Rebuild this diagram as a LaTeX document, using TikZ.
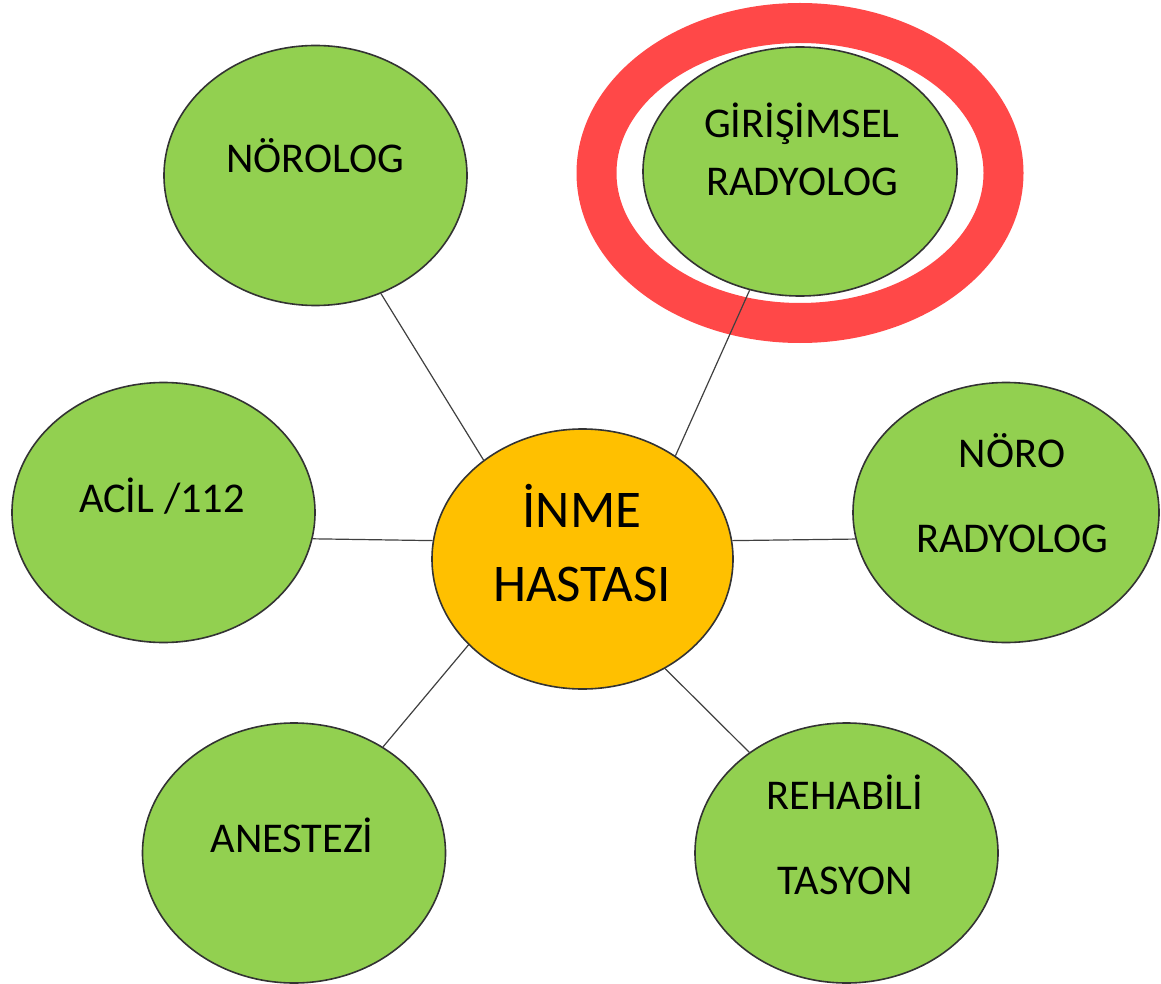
\documentclass[tikz,border=0pt]{standalone}
\usepackage{fontspec}
\setmainfont{Carlito}
\usetikzlibrary{shapes.geometric}
\definecolor{leaf}{HTML}{92D050}
\definecolor{amber}{HTML}{FFC000}
\definecolor{ringred}{HTML}{FF4848}

\begin{document}
\begin{tikzpicture}[x=0.5pt, y=-0.5pt,
            bubble/.style={ellipse, draw=black!80, line width=0.8pt, fill=leaf, inner sep=0pt, minimum width=151.5pt, minimum height=130pt},
            txt/.style={inner sep=0pt, text depth=0pt, anchor=south, align=center, font=\fontsize{21.2}{42.5}\selectfont},
            link/.style={draw=black!75, line width=0.6pt}]
            \useasboundingbox (0,0) rectangle (1161,984);

            \node(ring) [ellipse, draw=ringred, line width=20pt, minimum width=203.5pt, minimum height=150pt] at (800,173) {};

            \node(inme) [bubble, fill=amber, minimum width=150.5pt] at (582.5,559) {};
            \node(nrl) [bubble] at (315.5,175.5) {};
            \node(gir) [bubble, minimum width=157pt, minimum height=124.5pt] at (800,171.5) {};
            \node(acil) [bubble] at (163.5,512.5) {};
            \node(nrd) [bubble, minimum width=153pt] at (1006,512.5) {};
            \node(anes) [bubble] at (294,853) {};
            \node(reh) [bubble] at (846.5,853) {};

            \node(inme-t) [txt, font=\fontsize{26.5}{37}\selectfont] at (582,602) {İNME\\HASTASI};
            \node(nrl-t) [txt] at (315,173) {NÖROLOG};
            \node(gir-t) [txt, font=\fontsize{21.2}{29}\selectfont] at (802,196) {GİRİŞİMSEL\\RADYOLOG};
            \node(acil-t) [txt] at (162,513) {ACİL /112};
            \node(nrd-t) [txt] at (1012,553) {NÖRO\\RADYOLOG};
            \node(anes-t) [txt] at (292,853) {ANESTEZİ};
            \node(reh-t) [txt] at (845,895) {REHABİLİ\\TASYON};

            \draw[link] (nrl.-61) -- (inme.135);
            \draw[link] (gir.247) -- (inme.48);
            \draw[link] (acil.-10) -- (inme.173);
            \draw[link] (nrd.190) -- (inme.7);
            \draw[link] (anes.50) -- (inme.217);
            \draw[link] (reh.134) -- (inme.-53);
        \end{tikzpicture}
\end{document}
